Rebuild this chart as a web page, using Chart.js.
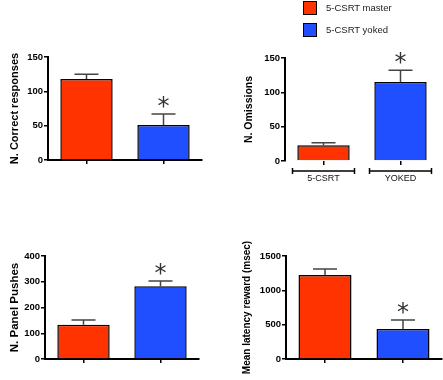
<!DOCTYPE html>
<html>
<head>
<meta charset="utf-8">
<script src="https://cdn.jsdelivr.net/npm/chart.js@4.4.1/dist/chart.umd.min.js"></script>
<style>
  body { margin: 0; background: #fff; }
  #wrap { position: relative; width: 443px; height: 380px; overflow: hidden; font-family: "Liberation Sans", Arial, sans-serif; }
  canvas { position: absolute; }
  .legend-item { position: absolute; left: 303px; font-size: 9.5px; color: #222; }
  .legend-item span.box { position: absolute; left: 0; top: 0; width: 12px; height: 12px; border: 1.5px solid #000; }
  .legend-item span.txt { position: absolute; left: 23px; top: 1px; white-space: nowrap; }
</style>
</head>
<body>
<div id="wrap">
  <canvas id="correct" width="221" height="190" style="left:0;top:0"></canvas>
  <canvas id="omissions" width="222" height="190" style="left:221px;top:0"></canvas>
  <canvas id="pushes" width="221" height="190" style="left:0;top:190px"></canvas>
  <canvas id="latency" width="222" height="190" style="left:221px;top:190px"></canvas>
  <div class="legend-item" style="top:1px"><span class="box" style="background:#FF3300"></span><span class="txt">5-CSRT master</span></div>
  <div class="legend-item" style="top:23px"><span class="box" style="background:#1F4FFF"></span><span class="txt">5-CSRT yoked</span></div>
</div>
<script>
// groups and per-panel means / SEM
const groups = ["5-CSRT master", "5-CSRT yoked"];
const omissionLabels = ["5-CSRT", "YOKED"];
const significant = [false, true];

const correctMean = [118, 51];
const correctSem = [7, 16];
const omissionMean = [23, 115];
const omissionSem = [3.5, 17];
const pushesMean = [133, 283];
const pushesSem = [18, 20];
const latencyMean = [1223, 437];
const latencySem = [88, 131];

const correctTicks = [0, 50, 100, 150];
const omissionTicks = [0, 50, 100, 150];
const pushesTicks = [0, 100, 200, 300, 400];
const latencyTicks = [0, 500, 1000, 1500];

const barColors = ["#FF3300", "#1F4FFF"];
const FONT = "'Liberation Sans', Arial, sans-serif";

const errorBars = {
    id: "errorBars",
    afterDatasetsDraw(chart, args, opts) {
        const ctx = chart.ctx;
        const yScale = chart.scales.y;
        const meta = chart.getDatasetMeta(0);
        ctx.save();
        meta.data.forEach((bar, i) => {
            const top = yScale.getPixelForValue(opts.mean[i] + opts.sem[i]);
            ctx.strokeStyle = "#444";
            ctx.lineWidth = 1.5;
            ctx.beginPath();
            ctx.moveTo(bar.x, bar.y);
            ctx.lineTo(bar.x, top);
            ctx.moveTo(bar.x - 12, top);
            ctx.lineTo(bar.x + 12, top);
            ctx.stroke();
            if (significant[i]) {
                ctx.fillStyle = "#333";
                ctx.font = "24px 'DejaVu Sans', sans-serif";
                ctx.textAlign = "center";
                ctx.textBaseline = "alphabetic";
                ctx.fillText("*", bar.x, top);
            }
        });
        if (opts.brackets) {
            const xScale = chart.scales.x;
            const y = chart.chartArea.bottom + 10;
            ctx.strokeStyle = "#000";
            ctx.lineWidth = 1.5;
            groups.forEach((g, i) => {
                const cx = xScale.getPixelForValue(i);
                ctx.beginPath();
                ctx.moveTo(cx - 31, y);
                ctx.lineTo(cx + 31, y);
                ctx.moveTo(cx - 31, y - 3);
                ctx.lineTo(cx - 31, y + 3);
                ctx.moveTo(cx + 31, y - 3);
                ctx.lineTo(cx + 31, y + 3);
                ctx.stroke();
            });
        }
        ctx.restore();
    },
};

function makePanel(id, cfg) {
    return new Chart(document.getElementById(id), {
        type: "bar",
        data: {
            labels: cfg.labels || groups,
            datasets: [{
                data: cfg.mean,
                backgroundColor: barColors,
                borderColor: "#000",
                borderWidth: 1.5,
                categoryPercentage: 1,
                barPercentage: 0.68,
            }],
        },
        options: {
            responsive: false,
            animation: false,
            devicePixelRatio: 1,
            layout: {
                padding: { top: cfg.top, right: cfg.right, bottom: 0, left: 0 },
            },
            plugins: {
                legend: { display: false },
                tooltip: { enabled: false },
                errorBars: { mean: cfg.mean, sem: cfg.sem, brackets: !!cfg.brackets },
            },
            scales: {
                x: {
                    afterFit: (s) => { s.height = cfg.xHeight; },
                    grid: {
                        offset: false,
                        drawOnChartArea: false,
                        tickLength: 4,
                        color: "#000",
                        lineWidth: 1.5,
                    },
                    border: { display: !cfg.brackets, color: "#000", width: 2 },
                    ticks: {
                        display: !!cfg.brackets,
                        color: "#111",
                        padding: 8,
                        font: { family: FONT, size: 9 },
                    },
                },
                y: {
                    min: 0,
                    max: cfg.ticks[cfg.ticks.length - 1],
                    afterFit: (s) => { s.width = cfg.yWidth; },
                    afterBuildTicks: (s) => { s.ticks = cfg.ticks.map((v) => ({ value: v })); },
                    grid: {
                        drawOnChartArea: false,
                        tickLength: 4,
                        color: "#000",
                        lineWidth: 1.5,
                    },
                    border: { color: "#000", width: 2 },
                    ticks: {
                        color: "#000",
                        padding: 1,
                        font: { family: FONT, size: 9.5, weight: "bold" },
                        callback: (v) => String(v),
                    },
                    title: {
                        display: true,
                        text: cfg.title,
                        color: "#000",
                        font: { family: FONT, size: cfg.titleSize, weight: "bold" },
                        padding: { top: cfg.titlePad, bottom: 0 },
                    },
                },
            },
        },
        plugins: [errorBars],
    });
}

makePanel("correct", {
    mean: correctMean, sem: correctSem, ticks: correctTicks,
    title: "N. Correct responses", titleSize: 11, titlePad: 8.4,
    top: 57, right: 19, yWidth: 48, xHeight: 30,
});
makePanel("omissions", {
    mean: omissionMean, sem: omissionSem, ticks: omissionTicks, labels: omissionLabels, brackets: true,
    title: "N. Omissions", titleSize: 10.5, titlePad: 21.7,
    top: 58, right: 4, yWidth: 64, xHeight: 29,
});
makePanel("pushes", {
    mean: pushesMean, sem: pushesSem, ticks: pushesTicks,
    title: "N. Panel Pushes", titleSize: 11.5, titlePad: 8.1,
    top: 66, right: 22, yWidth: 45, xHeight: 21,
});
makePanel("latency", {
    mean: latencyMean, sem: latencySem, ticks: latencyTicks,
    title: "Mean latency reward (msec)", titleSize: 10, titlePad: 20,
    top: 66, right: 1, yWidth: 65, xHeight: 21,
});
</script>
</body>
</html>
